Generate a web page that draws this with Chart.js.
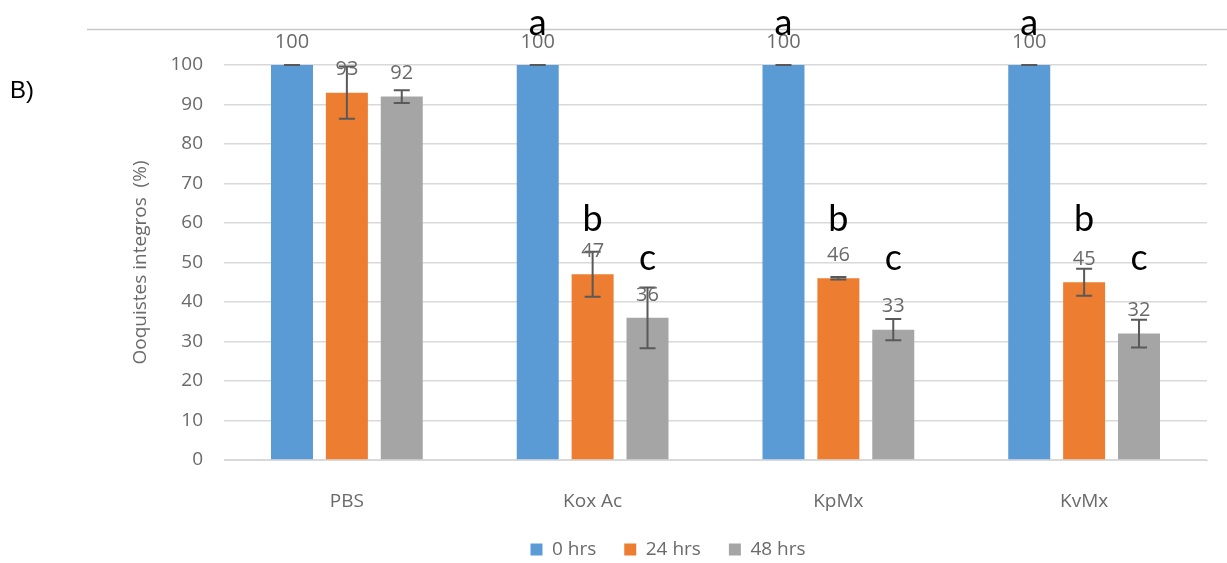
<!DOCTYPE html>
<html>
<head>
<meta charset="utf-8">
<script src="https://cdn.jsdelivr.net/npm/chart.js@4.4.1/dist/chart.umd.min.js"></script>
<style>
  html, body { margin: 0; padding: 0; background: #fff; }
  #wrap { width: 1227px; height: 563px; position: relative; }
</style>
</head>
<body>
<div id="wrap"><canvas id="chart" width="1227" height="563"></canvas></div>
<script>
// Data
const categories = ["PBS", "Kox Ac", "KpMx", "KvMx"];
const seriesNames = ["0 hrs", "24 hrs", "48 hrs"];
const hrs0 = [100, 100, 100, 100];
const hrs24 = [93, 47, 46, 45];
const hrs48 = [92, 36, 33, 32];
const err0 = [0, 0, 0, 0];
const err24 = [6.6, 5.7, 0.3, 3.4];
const err48 = [1.6, 7.7, 2.7, 3.5];
const letters0 = ["", "a", "a", "a"];
const letters24 = ["", "b", "b", "b"];
const letters48 = ["", "c", "c", "c"];
const yTicks = [0, 10, 20, 30, 40, 50, 60, 70, 80, 90, 100];

const colors = ["#5B9BD5", "#ED7D31", "#A5A5A5"];
const allErr = [err0, err24, err48];
const allLetters = [letters0, letters24, letters48];
const letterOffset = [42, 32, 29]; // px above the highest error cap in the series

const textGray = "#6a6a6a";
const FONT = "'Open Sans', sans-serif";

// error bars, value labels, significance letters and the panel decoration
const extrasPlugin = {
  id: "extras",
  beforeDraw(chart) {
    const ctx = chart.ctx;
    ctx.save();
    ctx.strokeStyle = "#c8c8c8";
    ctx.lineWidth = 1.5;
    ctx.beginPath();
    ctx.moveTo(87, 29.5);
    ctx.lineTo(1227, 29.5);
    ctx.stroke();
    ctx.fillStyle = "#000";
    ctx.font = "24px 'Liberation Sans', sans-serif";
    ctx.textBaseline = "middle";
    ctx.fillText("B)", 10, 91);
    ctx.restore();
  },
  afterDatasetsDraw(chart) {
    const ctx = chart.ctx;
    const y = chart.scales.y;
    ctx.save();
    chart.data.datasets.forEach((ds, di) => {
      const meta = chart.getDatasetMeta(di);
      const errs = allErr[di];
      let topMost = Infinity;
      meta.data.forEach((bar, i) => {
        const v = ds.data[i];
        const e = errs[i];
        const yTop = y.getPixelForValue(v + e);
        const yBot = y.getPixelForValue(v - e);
        ctx.strokeStyle = "#595959";
        ctx.lineWidth = 2;
        ctx.beginPath();
        ctx.moveTo(bar.x, yTop);
        ctx.lineTo(bar.x, yBot);
        ctx.moveTo(bar.x - 8, yTop);
        ctx.lineTo(bar.x + 8, yTop);
        ctx.moveTo(bar.x - 8, yBot);
        ctx.lineTo(bar.x + 8, yBot);
        ctx.stroke();
        // value label
        ctx.fillStyle = textGray;
        ctx.font = "20px " + FONT;
        ctx.textAlign = "center";
        ctx.textBaseline = "bottom";
        ctx.fillText(String(v), bar.x, bar.y - 13);
        if (allLetters[di][i]) topMost = Math.min(topMost, yTop);
      });
      // significance letters at a common height for the series
      meta.data.forEach((bar, i) => {
        const L = allLetters[di][i];
        if (!L) return;
        ctx.fillStyle = "#000";
        ctx.font = "36px Lato, sans-serif";
        ctx.textAlign = "center";
        ctx.textBaseline = "middle";
        ctx.fillText(L, bar.x, topMost - letterOffset[di]);
      });
    });
    ctx.restore();
  }
};

const dataArrays = [hrs0, hrs24, hrs48];

new Chart(document.getElementById("chart"), {
  type: "bar",
  data: {
    labels: categories,
    datasets: seriesNames.map((name, i) => ({
      label: name,
      data: dataArrays[i],
      backgroundColor: colors[i],
      borderWidth: 0,
      categoryPercentage: 0.67,
      barPercentage: 0.765
    }))
  },
  options: {
    responsive: false,
    animation: false,
    layout: { padding: { left: 129, right: 20, top: 65, bottom: 0 } },
    plugins: {
      tooltip: { enabled: false },
      legend: {
        position: "bottom",
        maxHeight: 51,
        labels: {
          boxWidth: 12,
          boxHeight: 12,
          color: textGray,
          font: { family: FONT, size: 19 },
          padding: 28
        }
      }
    },
    scales: {
      x: {
        grid: { display: false },
        border: { display: true, color: "#d9d9d9" },
        ticks: { color: textGray, font: { family: FONT, size: 19 }, padding: 22 },
        afterFit(s) { s.height = 52; }
      },
      y: {
        min: 0,
        max: 100,
        afterBuildTicks(s) { s.ticks = yTicks.map(v => ({ value: v })); },
        grid: { color: "#d9d9d9", lineWidth: 1.5, drawTicks: false },
        border: { display: false },
        ticks: { color: textGray, font: { family: FONT, size: 19 }, padding: 21 },
        title: {
          display: true,
          text: "Ooquistes integros  (%)",
          color: textGray,
          font: { family: FONT, size: 19 },
          padding: 0
        },
        afterFit(s) { s.width = 95; }
      }
    }
  },
  plugins: [extrasPlugin]
});
</script>
</body>
</html>
